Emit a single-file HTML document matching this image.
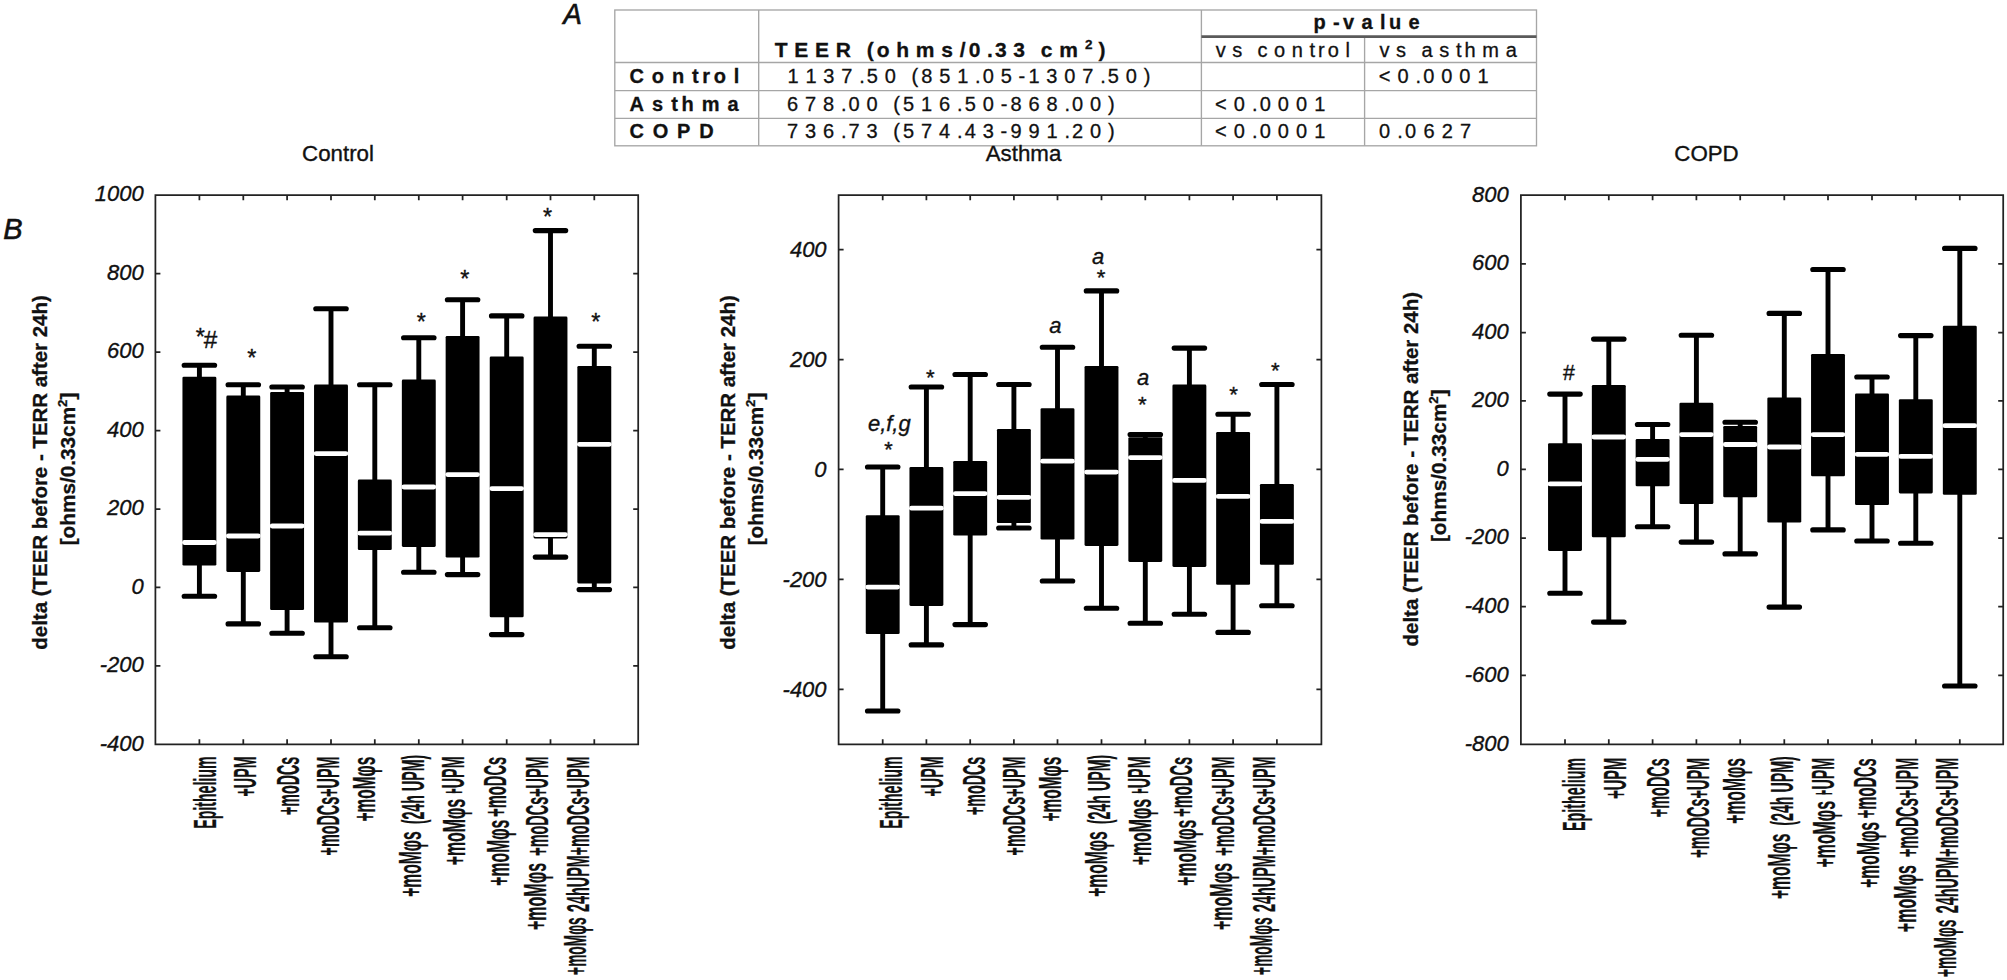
<!DOCTYPE html>
<html lang="en"><head><meta charset="utf-8"><title>TEER figure</title>
<style>html,body{margin:0;padding:0;background:#fff}svg{display:block} text{font-family:"Liberation Sans", sans-serif;fill:#111;font-kerning:none}.tb{white-space:pre}.yl,.ti,.an{stroke:#111;stroke-width:0.35px}.ab{stroke:#111;stroke-width:0.6px}.tb{stroke:#111;stroke-width:0.3px}.yt{stroke:#111;stroke-width:0.3px}.xl{stroke:#111;stroke-width:0.2px;vector-effect:non-scaling-stroke;font-kerning:none}</style></head><body>
<svg width="2007" height="980" viewBox="0 0 2007 980">
<rect width="2007" height="980" fill="#fff"/>
<g fill="none" stroke="#a6a6a6" stroke-width="1.35">
<rect x="614.8" y="10.0" width="921.7" height="135.8"/>
<path d="M758.7 10.0V145.8M1201.4 10.0V145.8M1364.6 36.6V145.8M614.8 62.5H1536.5M614.8 90.6H1536.5M614.8 118.3H1536.5"/>
</g>
<path d="M1201.4 36.6H1536.5" stroke="#5a5a5a" stroke-width="2.6" fill="none"/>
<text class="tb" x="774.76" y="57.4" font-size="21" font-weight="bold" dx="0 6.73 6.73 6.73 6.73 3.10 3.10 6.73 6.73 6.73 6.73 3.10 6.73 2.02 6.73 6.73 3.10 6.73">TEER (ohms/0.33 cm</text>
<text class="tb" x="1098.58" y="57.4" font-size="21" font-weight="bold" dx="0">)</text>
<text class="tb" x="629.58" y="83.0" font-size="20" font-weight="bold" dx="0 7.83 7.83 7.83 3.60 3.60 7.83">Control</text>
<text class="tb" x="629.50" y="110.7" font-size="20" font-weight="bold" dx="0 8.03 8.03 3.69 8.03 8.03">Asthma</text>
<text class="tb" x="629.58" y="138.3" font-size="20" font-weight="bold" dx="0 8.76 8.76 8.76">COPD</text>
<text class="tb" x="787.48" y="83.2" font-size="20" font-weight="normal" dx="0 6.82 6.82 6.82 6.82 2.05 6.82 6.82 3.14 3.14 6.82 6.82 6.82 2.05 6.82 6.82 3.14 6.82 6.82 6.82 6.82 2.05 6.82 6.82">1137.50 (851.05-1307.50)</text>
<text class="tb" x="786.98" y="110.7" font-size="20" font-weight="normal" dx="0 6.86 6.86 6.86 2.06 6.86 6.86 3.16 3.16 6.86 6.86 6.86 2.06 6.86 6.86 3.16 6.86 6.86 6.86 2.06 6.86 6.86">678.00 (516.50-868.00)</text>
<text class="tb" x="786.97" y="138.3" font-size="20" font-weight="normal" dx="0 6.86 6.86 6.86 2.06 6.86 6.86 3.16 3.16 6.86 6.86 6.86 2.06 6.86 6.86 3.16 6.86 6.86 6.86 2.06 6.86 6.86">736.73 (574.43-991.20)</text>
<text class="tb" x="1313.38" y="29.4" font-size="20" font-weight="bold" dx="0 7.37 3.39 7.37 7.37 3.39 7.37">p-value</text>
<text class="tb" x="1215.73" y="57.3" font-size="20" font-weight="normal" dx="0 6.59 6.59 3.03 6.59 6.59 6.59 3.03 3.03 6.59">vs control</text>
<text class="tb" x="1379.43" y="57.3" font-size="20" font-weight="normal" dx="0 6.68 6.68 3.07 6.68 6.68 3.07 6.68 6.68">vs asthma</text>
<text class="tb" x="1378.81" y="83.0" font-size="20" font-weight="normal" dx="0 6.96 6.96 2.09 6.96 6.96 6.96">&lt;0.0001</text>
<text class="tb" x="1215.01" y="110.5" font-size="20" font-weight="normal" dx="0 7.08 7.08 2.12 7.08 7.08 7.08">&lt;0.0001</text>
<text class="tb" x="1215.01" y="138.3" font-size="20" font-weight="normal" dx="0 7.08 7.08 2.12 7.08 7.08 7.08">&lt;0.0001</text>
<text class="tb" x="1379.02" y="138.3" font-size="20" font-weight="normal" dx="0 7.21 2.16 7.21 7.21 7.21">0.0627</text>
<text class="tb" x="1085.0" y="48.8" font-size="13.5" font-weight="bold">2</text>
<text class="ab" transform="translate(563.2 24.3) scale(1 1.07)" font-size="27.9" font-style="italic">A</text>
<text class="ab" transform="translate(3.3 239) scale(1 1.035)" font-size="29" font-style="italic">B</text>
<text x="338.0" y="161.0" font-size="22.3" text-anchor="middle" class="ti">Control</text>
<path d="M155.4 195.2H638.2V744.3H155.4ZM199.4 195.2v5.0M199.4 744.3v-5.0M243.3 195.2v5.0M243.3 744.3v-5.0M287.1 195.2v5.0M287.1 744.3v-5.0M331.0 195.2v5.0M331.0 744.3v-5.0M374.8 195.2v5.0M374.8 744.3v-5.0M418.8 195.2v5.0M418.8 744.3v-5.0M462.6 195.2v5.0M462.6 744.3v-5.0M506.7 195.2v5.0M506.7 744.3v-5.0M550.5 195.2v5.0M550.5 744.3v-5.0M594.3 195.2v5.0M594.3 744.3v-5.0M155.4 273.6h5.0M638.2 273.6h-5.0M155.4 352.1h5.0M638.2 352.1h-5.0M155.4 430.5h5.0M638.2 430.5h-5.0M155.4 509.0h5.0M638.2 509.0h-5.0M155.4 587.4h5.0M638.2 587.4h-5.0M155.4 665.9h5.0M638.2 665.9h-5.0" fill="none" stroke="#222" stroke-width="1.75"/>
<text class="yl" transform="translate(143.7 201.4) scale(1 1.04)" font-size="22" text-anchor="end" font-style="italic">1000</text>
<text class="yl" transform="translate(143.7 279.8) scale(1 1.04)" font-size="22" text-anchor="end" font-style="italic">800</text>
<text class="yl" transform="translate(143.7 358.3) scale(1 1.04)" font-size="22" text-anchor="end" font-style="italic">600</text>
<text class="yl" transform="translate(143.7 436.7) scale(1 1.04)" font-size="22" text-anchor="end" font-style="italic">400</text>
<text class="yl" transform="translate(143.7 515.2) scale(1 1.04)" font-size="22" text-anchor="end" font-style="italic">200</text>
<text class="yl" transform="translate(143.7 593.6) scale(1 1.04)" font-size="22" text-anchor="end" font-style="italic">0</text>
<text class="yl" transform="translate(143.7 672.1) scale(1 1.04)" font-size="22" text-anchor="end" font-style="italic">-200</text>
<text class="yl" transform="translate(143.7 750.5) scale(1 1.04)" font-size="22" text-anchor="end" font-style="italic">-400</text>
<path d="M199.4 365.2V596.3" stroke="#000" stroke-width="4.9" fill="none"/>
<path d="M184.15 365.2h30.50M184.15 596.3h30.50" stroke="#000" stroke-width="5.1" stroke-linecap="round" fill="none"/>
<rect x="182.45" y="376.70000000000005" width="33.9" height="188.8" rx="1.3" fill="#000"/>
<path d="M184.45 542.5h29.90" stroke="#fff" stroke-width="4.8" stroke-linecap="round" fill="none"/>
<path d="M243.3 384.8V623.9" stroke="#000" stroke-width="4.9" fill="none"/>
<path d="M228.05 384.8h30.50M228.05 623.9h30.50" stroke="#000" stroke-width="5.1" stroke-linecap="round" fill="none"/>
<rect x="226.35" y="395.6" width="33.9" height="176.3" rx="1.3" fill="#000"/>
<path d="M228.35 536.0h29.90" stroke="#fff" stroke-width="4.8" stroke-linecap="round" fill="none"/>
<path d="M287.1 387.0V633.1999999999999" stroke="#000" stroke-width="4.9" fill="none"/>
<path d="M271.85 387.0h30.50M271.85 633.1999999999999h30.50" stroke="#000" stroke-width="5.1" stroke-linecap="round" fill="none"/>
<rect x="270.15" y="392.1" width="33.9" height="218.0" rx="1.3" fill="#000"/>
<path d="M272.15 526.0h29.90" stroke="#fff" stroke-width="4.8" stroke-linecap="round" fill="none"/>
<path d="M331.0 308.8V656.6999999999999" stroke="#000" stroke-width="4.9" fill="none"/>
<path d="M315.75 308.8h30.50M315.75 656.6999999999999h30.50" stroke="#000" stroke-width="5.1" stroke-linecap="round" fill="none"/>
<rect x="314.05" y="384.6" width="33.9" height="237.9" rx="1.3" fill="#000"/>
<path d="M316.05 453.6h29.90" stroke="#fff" stroke-width="4.8" stroke-linecap="round" fill="none"/>
<path d="M374.8 384.8V627.8" stroke="#000" stroke-width="4.9" fill="none"/>
<path d="M359.55 384.8h30.50M359.55 627.8h30.50" stroke="#000" stroke-width="5.1" stroke-linecap="round" fill="none"/>
<rect x="357.85" y="479.6" width="33.9" height="70.5" rx="1.3" fill="#000"/>
<path d="M359.85 533.2h29.90" stroke="#fff" stroke-width="4.8" stroke-linecap="round" fill="none"/>
<path d="M418.8 337.7V572.3" stroke="#000" stroke-width="4.9" fill="none"/>
<path d="M403.55 337.7h30.50M403.55 572.3h30.50" stroke="#000" stroke-width="5.1" stroke-linecap="round" fill="none"/>
<rect x="401.85" y="379.6" width="33.9" height="167.3" rx="1.3" fill="#000"/>
<path d="M403.85 487.0h29.90" stroke="#fff" stroke-width="4.8" stroke-linecap="round" fill="none"/>
<path d="M462.6 299.8V574.5999999999999" stroke="#000" stroke-width="4.9" fill="none"/>
<path d="M447.35 299.8h30.50M447.35 574.5999999999999h30.50" stroke="#000" stroke-width="5.1" stroke-linecap="round" fill="none"/>
<rect x="445.65" y="336.0" width="33.9" height="221.5" rx="1.3" fill="#000"/>
<path d="M447.65 474.6h29.90" stroke="#fff" stroke-width="4.8" stroke-linecap="round" fill="none"/>
<path d="M506.7 315.9V634.5999999999999" stroke="#000" stroke-width="4.9" fill="none"/>
<path d="M491.45 315.9h30.50M491.45 634.5999999999999h30.50" stroke="#000" stroke-width="5.1" stroke-linecap="round" fill="none"/>
<rect x="489.75" y="356.40000000000003" width="33.9" height="260.9" rx="1.3" fill="#000"/>
<path d="M491.75 488.6h29.90" stroke="#fff" stroke-width="4.8" stroke-linecap="round" fill="none"/>
<path d="M550.5 230.6V557.0999999999999" stroke="#000" stroke-width="4.9" fill="none"/>
<path d="M535.25 230.6h30.50M535.25 557.0999999999999h30.50" stroke="#000" stroke-width="5.1" stroke-linecap="round" fill="none"/>
<rect x="533.55" y="316.6" width="33.9" height="221.8" rx="1.3" fill="#000"/>
<path d="M535.55 534.6h29.90" stroke="#fff" stroke-width="4.8" stroke-linecap="round" fill="none"/>
<path d="M594.3 346.2V589.5999999999999" stroke="#000" stroke-width="4.9" fill="none"/>
<path d="M579.05 346.2h30.50M579.05 589.5999999999999h30.50" stroke="#000" stroke-width="5.1" stroke-linecap="round" fill="none"/>
<rect x="577.35" y="366.0" width="33.9" height="217.4" rx="1.3" fill="#000"/>
<path d="M579.35 444.3h29.90" stroke="#fff" stroke-width="4.8" stroke-linecap="round" fill="none"/>
<text class="xl" transform="translate(216.35 756.52) rotate(-90) scale(0.4564 1)" text-anchor="end" font-size="31" font-weight="bold">Epithelium</text>
<text class="xl" transform="translate(256.35 756.45) rotate(-90) scale(0.4604 1)" text-anchor="end" font-size="31" font-weight="bold">+UPM</text>
<text class="xl" transform="translate(299.45 756.82) rotate(-90) scale(0.4595 1)" text-anchor="end" font-size="31" font-weight="bold">+moDCs</text>
<text class="xl" transform="translate(339.45 756.44) rotate(-90) scale(0.4638 1)" text-anchor="end" font-size="31" font-weight="bold">+moDCs+UPM</text>
<text class="xl" transform="translate(375.35 756.77) rotate(-90) scale(0.4989 1)" text-anchor="end" font-size="31" font-weight="bold">+moMφs</text>
<g>
<text class="xl" transform="translate(420.75 896.86) rotate(-90) scale(0.5052 1)" text-anchor="start" font-size="31" font-weight="bold">+moMφs </text>
<text class="xl" transform="translate(423.75 754.79) rotate(-90) scale(0.4587 1)" text-anchor="end" font-size="31" font-weight="bold">(24h UPM)</text>
</g>
<g>
<text class="xl" transform="translate(464.95 865.27) rotate(-90) scale(0.5123 1)" text-anchor="start" font-size="31" font-weight="bold">+moMφs </text>
<text class="xl" transform="translate(463.75 756.44) rotate(-90) scale(0.4616 1)" text-anchor="end" font-size="31" font-weight="bold">+UPM</text>
<rect x="438.9" y="793.2" width="27" height="5.2" fill="#fff"/>
</g>
<g>
<text class="xl" transform="translate(509.35 885.66) rotate(-90) scale(0.5076 1)" text-anchor="start" font-size="31" font-weight="bold">+moMφs </text>
<text class="xl" transform="translate(505.85 756.80) rotate(-90) scale(0.4740 1)" text-anchor="end" font-size="31" font-weight="bold">+moDCs</text>
</g>
<g>
<text class="xl" transform="translate(545.85 929.97) rotate(-90) scale(0.5162 1)" text-anchor="start" font-size="31" font-weight="bold">+moMφs </text>
<text class="xl" transform="translate(548.05 756.44) rotate(-90) scale(0.4647 1)" text-anchor="end" font-size="31" font-weight="bold">+moDCs+UPM</text>
</g>
<g>
<text class="xl" transform="translate(585.85 974.88) rotate(-90) scale(0.4432 1)" text-anchor="start" font-size="31" font-weight="bold">+moMφs </text>
<text class="xl" transform="translate(588.75 756.44) rotate(-90) scale(0.4631 1)" text-anchor="end" font-size="31" font-weight="bold">24hUPM+moDCs+UPM</text>
</g>
<text class="yt" transform="translate(46.7 472.45) rotate(-90) scale(1.023 1)" text-anchor="middle" font-size="20" font-weight="bold">delta (TEER before - TERR after 24h)</text>
<text class="yt" transform="translate(74.6 468.95) rotate(-90) scale(1.038 1)" text-anchor="middle" font-size="20" font-weight="bold">[ohms/0.33cm<tspan font-size="12.8" dy="-7.7">2</tspan><tspan dy="7.7">]</tspan></text>
<text class="an" x="200.2" y="345.3" font-size="23.4" text-anchor="middle">*</text>
<text class="an" x="203.8" y="348.2" font-size="24.3">#</text>
<text class="an" x="251.8" y="366.1" font-size="23.4" text-anchor="middle">*</text>
<text class="an" x="421.3" y="329.7" font-size="23.4" text-anchor="middle">*</text>
<text class="an" x="464.8" y="287.2" font-size="23.4" text-anchor="middle">*</text>
<text class="an" x="547.5" y="224.7" font-size="23.4" text-anchor="middle">*</text>
<text class="an" x="595.9" y="329.7" font-size="23.4" text-anchor="middle">*</text>
<text x="1023.5" y="161.0" font-size="22.3" text-anchor="middle" class="ti">Asthma</text>
<path d="M838.6 195.2H1321.4V744.3H838.6ZM882.7 195.2v5.0M882.7 744.3v-5.0M926.4 195.2v5.0M926.4 744.3v-5.0M970.2 195.2v5.0M970.2 744.3v-5.0M1013.9 195.2v5.0M1013.9 744.3v-5.0M1057.5 195.2v5.0M1057.5 744.3v-5.0M1101.5 195.2v5.0M1101.5 744.3v-5.0M1145.3 195.2v5.0M1145.3 744.3v-5.0M1189.4 195.2v5.0M1189.4 744.3v-5.0M1233.1 195.2v5.0M1233.1 744.3v-5.0M1276.9 195.2v5.0M1276.9 744.3v-5.0M838.6 249.6h5.0M1321.4 249.6h-5.0M838.6 359.5h5.0M1321.4 359.5h-5.0M838.6 469.3h5.0M1321.4 469.3h-5.0M838.6 579.3h5.0M1321.4 579.3h-5.0M838.6 689.3h5.0M1321.4 689.3h-5.0" fill="none" stroke="#222" stroke-width="1.75"/>
<text class="yl" transform="translate(826.6 257.0) scale(1 1.04)" font-size="22" text-anchor="end" font-style="italic">400</text>
<text class="yl" transform="translate(826.6 366.9) scale(1 1.04)" font-size="22" text-anchor="end" font-style="italic">200</text>
<text class="yl" transform="translate(826.6 476.7) scale(1 1.04)" font-size="22" text-anchor="end" font-style="italic">0</text>
<text class="yl" transform="translate(826.6 586.7) scale(1 1.04)" font-size="22" text-anchor="end" font-style="italic">-200</text>
<text class="yl" transform="translate(826.6 696.7) scale(1 1.04)" font-size="22" text-anchor="end" font-style="italic">-400</text>
<path d="M882.7 467.0V711.0" stroke="#000" stroke-width="4.9" fill="none"/>
<path d="M867.45 467.0h30.50M867.45 711.0h30.50" stroke="#000" stroke-width="5.1" stroke-linecap="round" fill="none"/>
<rect x="865.75" y="515.3000000000001" width="33.9" height="118.8" rx="1.3" fill="#000"/>
<path d="M867.75 587.1h29.90" stroke="#fff" stroke-width="4.8" stroke-linecap="round" fill="none"/>
<path d="M926.4 387.0V644.9" stroke="#000" stroke-width="4.9" fill="none"/>
<path d="M911.15 387.0h30.50M911.15 644.9h30.50" stroke="#000" stroke-width="5.1" stroke-linecap="round" fill="none"/>
<rect x="909.45" y="467.1" width="33.9" height="138.8" rx="1.3" fill="#000"/>
<path d="M911.45 508.2h29.90" stroke="#fff" stroke-width="4.8" stroke-linecap="round" fill="none"/>
<path d="M970.2 374.5V624.5999999999999" stroke="#000" stroke-width="4.9" fill="none"/>
<path d="M954.95 374.5h30.50M954.95 624.5999999999999h30.50" stroke="#000" stroke-width="5.1" stroke-linecap="round" fill="none"/>
<rect x="953.25" y="461.0" width="33.9" height="74.5" rx="1.3" fill="#000"/>
<path d="M955.25 493.6h29.90" stroke="#fff" stroke-width="4.8" stroke-linecap="round" fill="none"/>
<path d="M1013.9 384.5V528.0" stroke="#000" stroke-width="4.9" fill="none"/>
<path d="M998.65 384.5h30.50M998.65 528.0h30.50" stroke="#000" stroke-width="5.1" stroke-linecap="round" fill="none"/>
<rect x="996.95" y="428.90000000000003" width="33.9" height="94.2" rx="1.3" fill="#000"/>
<path d="M998.95 497.3h29.90" stroke="#fff" stroke-width="4.8" stroke-linecap="round" fill="none"/>
<path d="M1057.5 347.3V581.0" stroke="#000" stroke-width="4.9" fill="none"/>
<path d="M1042.25 347.3h30.50M1042.25 581.0h30.50" stroke="#000" stroke-width="5.1" stroke-linecap="round" fill="none"/>
<rect x="1040.55" y="408.20000000000005" width="33.9" height="131.3" rx="1.3" fill="#000"/>
<path d="M1042.55 461.2h29.90" stroke="#fff" stroke-width="4.8" stroke-linecap="round" fill="none"/>
<path d="M1101.5 290.9V608.1999999999999" stroke="#000" stroke-width="4.9" fill="none"/>
<path d="M1086.25 290.9h30.50M1086.25 608.1999999999999h30.50" stroke="#000" stroke-width="5.1" stroke-linecap="round" fill="none"/>
<rect x="1084.55" y="366.0" width="33.9" height="179.9" rx="1.3" fill="#000"/>
<path d="M1086.55 472.1h29.90" stroke="#fff" stroke-width="4.8" stroke-linecap="round" fill="none"/>
<path d="M1145.3 434.5V623.1999999999999" stroke="#000" stroke-width="4.9" fill="none"/>
<path d="M1130.05 434.5h30.50M1130.05 623.1999999999999h30.50" stroke="#000" stroke-width="5.1" stroke-linecap="round" fill="none"/>
<rect x="1128.35" y="437.20000000000005" width="33.9" height="124.7" rx="1.3" fill="#000"/>
<path d="M1130.35 457.6h29.90" stroke="#fff" stroke-width="4.8" stroke-linecap="round" fill="none"/>
<path d="M1189.4 348.09999999999997V614.1999999999999" stroke="#000" stroke-width="4.9" fill="none"/>
<path d="M1174.15 348.09999999999997h30.50M1174.15 614.1999999999999h30.50" stroke="#000" stroke-width="5.1" stroke-linecap="round" fill="none"/>
<rect x="1172.45" y="384.6" width="33.9" height="182.3" rx="1.3" fill="#000"/>
<path d="M1174.45 480.4h29.90" stroke="#fff" stroke-width="4.8" stroke-linecap="round" fill="none"/>
<path d="M1233.1 414.2V632.4" stroke="#000" stroke-width="4.9" fill="none"/>
<path d="M1217.85 414.2h30.50M1217.85 632.4h30.50" stroke="#000" stroke-width="5.1" stroke-linecap="round" fill="none"/>
<rect x="1216.15" y="431.90000000000003" width="33.9" height="152.9" rx="1.3" fill="#000"/>
<path d="M1218.15 496.4h29.90" stroke="#fff" stroke-width="4.8" stroke-linecap="round" fill="none"/>
<path d="M1276.9 384.5V605.6999999999999" stroke="#000" stroke-width="4.9" fill="none"/>
<path d="M1261.65 384.5h30.50M1261.65 605.6999999999999h30.50" stroke="#000" stroke-width="5.1" stroke-linecap="round" fill="none"/>
<rect x="1259.95" y="483.90000000000003" width="33.9" height="80.9" rx="1.3" fill="#000"/>
<path d="M1261.95 521.4h29.90" stroke="#fff" stroke-width="4.8" stroke-linecap="round" fill="none"/>
<text class="xl" transform="translate(901.90 756.52) rotate(-90) scale(0.4564 1)" text-anchor="end" font-size="31" font-weight="bold">Epithelium</text>
<text class="xl" transform="translate(942.75 756.45) rotate(-90) scale(0.4604 1)" text-anchor="end" font-size="31" font-weight="bold">+UPM</text>
<text class="xl" transform="translate(985.25 756.82) rotate(-90) scale(0.4595 1)" text-anchor="end" font-size="31" font-weight="bold">+moDCs</text>
<text class="xl" transform="translate(1024.95 756.44) rotate(-90) scale(0.4638 1)" text-anchor="end" font-size="31" font-weight="bold">+moDCs+UPM</text>
<text class="xl" transform="translate(1060.85 756.77) rotate(-90) scale(0.4989 1)" text-anchor="end" font-size="31" font-weight="bold">+moMφs</text>
<g>
<text class="xl" transform="translate(1106.85 896.86) rotate(-90) scale(0.5052 1)" text-anchor="start" font-size="31" font-weight="bold">+moMφs </text>
<text class="xl" transform="translate(1109.85 754.79) rotate(-90) scale(0.4587 1)" text-anchor="end" font-size="31" font-weight="bold">(24h UPM)</text>
</g>
<g>
<text class="xl" transform="translate(1151.15 865.27) rotate(-90) scale(0.5123 1)" text-anchor="start" font-size="31" font-weight="bold">+moMφs </text>
<text class="xl" transform="translate(1149.95 756.44) rotate(-90) scale(0.4616 1)" text-anchor="end" font-size="31" font-weight="bold">+UPM</text>
<rect x="1125.1" y="793.2" width="27" height="5.2" fill="#fff"/>
</g>
<g>
<text class="xl" transform="translate(1195.55 885.66) rotate(-90) scale(0.5076 1)" text-anchor="start" font-size="31" font-weight="bold">+moMφs </text>
<text class="xl" transform="translate(1192.05 756.80) rotate(-90) scale(0.4740 1)" text-anchor="end" font-size="31" font-weight="bold">+moDCs</text>
</g>
<g>
<text class="xl" transform="translate(1231.75 929.97) rotate(-90) scale(0.5162 1)" text-anchor="start" font-size="31" font-weight="bold">+moMφs </text>
<text class="xl" transform="translate(1233.95 756.44) rotate(-90) scale(0.4647 1)" text-anchor="end" font-size="31" font-weight="bold">+moDCs+UPM</text>
</g>
<g>
<text class="xl" transform="translate(1272.05 974.88) rotate(-90) scale(0.4432 1)" text-anchor="start" font-size="31" font-weight="bold">+moMφs </text>
<text class="xl" transform="translate(1274.95 756.44) rotate(-90) scale(0.4631 1)" text-anchor="end" font-size="31" font-weight="bold">24hUPM+moDCs+UPM</text>
</g>
<text class="yt" transform="translate(734.6 472.45) rotate(-90) scale(1.023 1)" text-anchor="middle" font-size="20" font-weight="bold">delta (TEER before - TERR after 24h)</text>
<text class="yt" transform="translate(762.5 468.95) rotate(-90) scale(1.038 1)" text-anchor="middle" font-size="20" font-weight="bold">[ohms/0.33cm<tspan font-size="12.8" dy="-7.7">2</tspan><tspan dy="7.7">]</tspan></text>
<text class="an" x="867.9" y="431.4" font-size="22" font-style="italic">e,f,g</text>
<text class="an" x="888.6" y="457.3" font-size="21.7" text-anchor="middle">*</text>
<text class="an" x="930.4" y="384.9" font-size="22.2" text-anchor="middle">*</text>
<text class="an" x="1049.3" y="333.2" font-size="22" font-style="italic">a</text>
<text class="an" x="1092.1" y="263.5" font-size="22" font-style="italic">a</text>
<text class="an" x="1101.0" y="284.8" font-size="22.2" text-anchor="middle">*</text>
<text class="an" x="1137.1" y="384.9" font-size="22" font-style="italic">a</text>
<text class="an" x="1142.3" y="411.5" font-size="22.2" text-anchor="middle">*</text>
<text class="an" x="1233.6" y="401.7" font-size="22.2" text-anchor="middle">*</text>
<text class="an" x="1275.4" y="377.9" font-size="22.2" text-anchor="middle">*</text>
<text x="1706.5" y="161.0" font-size="22.3" text-anchor="middle" class="ti">COPD</text>
<path d="M1520.9 195.2H2003.2V744.3H1520.9ZM1565.0 195.2v5.0M1565.0 744.3v-5.0M1608.8 195.2v5.0M1608.8 744.3v-5.0M1652.6 195.2v5.0M1652.6 744.3v-5.0M1696.4 195.2v5.0M1696.4 744.3v-5.0M1740.2 195.2v5.0M1740.2 744.3v-5.0M1784.3 195.2v5.0M1784.3 744.3v-5.0M1828.0 195.2v5.0M1828.0 744.3v-5.0M1872.0 195.2v5.0M1872.0 744.3v-5.0M1915.8 195.2v5.0M1915.8 744.3v-5.0M1959.8 195.2v5.0M1959.8 744.3v-5.0M1520.9 263.9h5.0M2003.2 263.9h-5.0M1520.9 332.5h5.0M2003.2 332.5h-5.0M1520.9 400.9h5.0M2003.2 400.9h-5.0M1520.9 469.3h5.0M2003.2 469.3h-5.0M1520.9 538.0h5.0M2003.2 538.0h-5.0M1520.9 606.7h5.0M2003.2 606.7h-5.0M1520.9 675.4h5.0M2003.2 675.4h-5.0" fill="none" stroke="#222" stroke-width="1.75"/>
<text class="yl" transform="translate(1508.7 201.5) scale(1 1.04)" font-size="22" text-anchor="end" font-style="italic">800</text>
<text class="yl" transform="translate(1508.7 270.2) scale(1 1.04)" font-size="22" text-anchor="end" font-style="italic">600</text>
<text class="yl" transform="translate(1508.7 338.8) scale(1 1.04)" font-size="22" text-anchor="end" font-style="italic">400</text>
<text class="yl" transform="translate(1508.7 407.2) scale(1 1.04)" font-size="22" text-anchor="end" font-style="italic">200</text>
<text class="yl" transform="translate(1508.7 475.6) scale(1 1.04)" font-size="22" text-anchor="end" font-style="italic">0</text>
<text class="yl" transform="translate(1508.7 544.3) scale(1 1.04)" font-size="22" text-anchor="end" font-style="italic">-200</text>
<text class="yl" transform="translate(1508.7 613.0) scale(1 1.04)" font-size="22" text-anchor="end" font-style="italic">-400</text>
<text class="yl" transform="translate(1508.7 681.7) scale(1 1.04)" font-size="22" text-anchor="end" font-style="italic">-600</text>
<text class="yl" transform="translate(1508.7 750.6) scale(1 1.04)" font-size="22" text-anchor="end" font-style="italic">-800</text>
<path d="M1565.0 394.09999999999997V593.1999999999999" stroke="#000" stroke-width="4.9" fill="none"/>
<path d="M1549.75 394.09999999999997h30.50M1549.75 593.1999999999999h30.50" stroke="#000" stroke-width="5.1" stroke-linecap="round" fill="none"/>
<rect x="1548.05" y="443.20000000000005" width="33.9" height="107.7" rx="1.3" fill="#000"/>
<path d="M1550.05 483.9h29.90" stroke="#fff" stroke-width="4.8" stroke-linecap="round" fill="none"/>
<path d="M1608.8 339.09999999999997V622.0999999999999" stroke="#000" stroke-width="4.9" fill="none"/>
<path d="M1593.55 339.09999999999997h30.50M1593.55 622.0999999999999h30.50" stroke="#000" stroke-width="5.1" stroke-linecap="round" fill="none"/>
<rect x="1591.85" y="385.0" width="33.9" height="152.3" rx="1.3" fill="#000"/>
<path d="M1593.85 437.0h29.90" stroke="#fff" stroke-width="4.8" stroke-linecap="round" fill="none"/>
<path d="M1652.6 424.5V526.6999999999999" stroke="#000" stroke-width="4.9" fill="none"/>
<path d="M1637.35 424.5h30.50M1637.35 526.6999999999999h30.50" stroke="#000" stroke-width="5.1" stroke-linecap="round" fill="none"/>
<rect x="1635.65" y="439.1" width="33.9" height="47.1" rx="1.3" fill="#000"/>
<path d="M1637.65 459.3h29.90" stroke="#fff" stroke-width="4.8" stroke-linecap="round" fill="none"/>
<path d="M1696.4 335.2V542.0999999999999" stroke="#000" stroke-width="4.9" fill="none"/>
<path d="M1681.15 335.2h30.50M1681.15 542.0999999999999h30.50" stroke="#000" stroke-width="5.1" stroke-linecap="round" fill="none"/>
<rect x="1679.45" y="402.8" width="33.9" height="101.3" rx="1.3" fill="#000"/>
<path d="M1681.45 434.6h29.90" stroke="#fff" stroke-width="4.8" stroke-linecap="round" fill="none"/>
<path d="M1740.2 422.3V553.9" stroke="#000" stroke-width="4.9" fill="none"/>
<path d="M1724.95 422.3h30.50M1724.95 553.9h30.50" stroke="#000" stroke-width="5.1" stroke-linecap="round" fill="none"/>
<rect x="1723.25" y="426.0" width="33.9" height="71.3" rx="1.3" fill="#000"/>
<path d="M1725.25 444.5h29.90" stroke="#fff" stroke-width="4.8" stroke-linecap="round" fill="none"/>
<path d="M1784.3 313.4V607.0999999999999" stroke="#000" stroke-width="4.9" fill="none"/>
<path d="M1769.05 313.4h30.50M1769.05 607.0999999999999h30.50" stroke="#000" stroke-width="5.1" stroke-linecap="round" fill="none"/>
<rect x="1767.35" y="397.5" width="33.9" height="125.1" rx="1.3" fill="#000"/>
<path d="M1769.35 447.0h29.90" stroke="#fff" stroke-width="4.8" stroke-linecap="round" fill="none"/>
<path d="M1828.0 269.5V529.9" stroke="#000" stroke-width="4.9" fill="none"/>
<path d="M1812.75 269.5h30.50M1812.75 529.9h30.50" stroke="#000" stroke-width="5.1" stroke-linecap="round" fill="none"/>
<rect x="1811.05" y="353.90000000000003" width="33.9" height="122.3" rx="1.3" fill="#000"/>
<path d="M1813.05 434.6h29.90" stroke="#fff" stroke-width="4.8" stroke-linecap="round" fill="none"/>
<path d="M1872.0 377.0V541.0" stroke="#000" stroke-width="4.9" fill="none"/>
<path d="M1856.75 377.0h30.50M1856.75 541.0h30.50" stroke="#000" stroke-width="5.1" stroke-linecap="round" fill="none"/>
<rect x="1855.05" y="393.5" width="33.9" height="111.6" rx="1.3" fill="#000"/>
<path d="M1857.05 454.3h29.90" stroke="#fff" stroke-width="4.8" stroke-linecap="round" fill="none"/>
<path d="M1915.8 335.59999999999997V543.1999999999999" stroke="#000" stroke-width="4.9" fill="none"/>
<path d="M1900.55 335.59999999999997h30.50M1900.55 543.1999999999999h30.50" stroke="#000" stroke-width="5.1" stroke-linecap="round" fill="none"/>
<rect x="1898.85" y="399.20000000000005" width="33.9" height="94.2" rx="1.3" fill="#000"/>
<path d="M1900.85 456.4h29.90" stroke="#fff" stroke-width="4.8" stroke-linecap="round" fill="none"/>
<path d="M1959.8 248.39999999999998V686.0" stroke="#000" stroke-width="4.9" fill="none"/>
<path d="M1944.55 248.39999999999998h30.50M1944.55 686.0h30.50" stroke="#000" stroke-width="5.1" stroke-linecap="round" fill="none"/>
<rect x="1942.85" y="325.70000000000005" width="33.9" height="169.1" rx="1.3" fill="#000"/>
<path d="M1944.85 425.7h29.90" stroke="#fff" stroke-width="4.8" stroke-linecap="round" fill="none"/>
<text class="xl" transform="translate(1585.45 757.91) rotate(-90) scale(0.4616 1)" text-anchor="end" font-size="31" font-weight="bold">Epithelium</text>
<text class="xl" transform="translate(1626.15 757.83) rotate(-90) scale(0.4700 1)" text-anchor="end" font-size="31" font-weight="bold">+UPM</text>
<text class="xl" transform="translate(1668.85 758.21) rotate(-90) scale(0.4660 1)" text-anchor="end" font-size="31" font-weight="bold">+moDCs</text>
<text class="xl" transform="translate(1708.65 757.83) rotate(-90) scale(0.4676 1)" text-anchor="end" font-size="31" font-weight="bold">+moDCs+UPM</text>
<text class="xl" transform="translate(1744.55 758.16) rotate(-90) scale(0.5052 1)" text-anchor="end" font-size="31" font-weight="bold">+moMφs</text>
<g>
<text class="xl" transform="translate(1790.35 899.06) rotate(-90) scale(0.5052 1)" text-anchor="start" font-size="31" font-weight="bold">+moMφs </text>
<text class="xl" transform="translate(1793.35 756.19) rotate(-90) scale(0.4587 1)" text-anchor="end" font-size="31" font-weight="bold">(24h UPM)</text>
</g>
<g>
<text class="xl" transform="translate(1834.75 867.47) rotate(-90) scale(0.5123 1)" text-anchor="start" font-size="31" font-weight="bold">+moMφs </text>
<text class="xl" transform="translate(1833.55 757.84) rotate(-90) scale(0.4616 1)" text-anchor="end" font-size="31" font-weight="bold">+UPM</text>
<rect x="1808.7" y="794.6" width="27" height="5.2" fill="#fff"/>
</g>
<g>
<text class="xl" transform="translate(1879.15 887.86) rotate(-90) scale(0.5076 1)" text-anchor="start" font-size="31" font-weight="bold">+moMφs </text>
<text class="xl" transform="translate(1875.65 758.20) rotate(-90) scale(0.4740 1)" text-anchor="end" font-size="31" font-weight="bold">+moDCs</text>
</g>
<g>
<text class="xl" transform="translate(1915.55 932.17) rotate(-90) scale(0.5162 1)" text-anchor="start" font-size="31" font-weight="bold">+moMφs </text>
<text class="xl" transform="translate(1917.75 757.84) rotate(-90) scale(0.4647 1)" text-anchor="end" font-size="31" font-weight="bold">+moDCs+UPM</text>
</g>
<g>
<text class="xl" transform="translate(1955.55 977.08) rotate(-90) scale(0.4432 1)" text-anchor="start" font-size="31" font-weight="bold">+moMφs </text>
<text class="xl" transform="translate(1958.45 757.84) rotate(-90) scale(0.4631 1)" text-anchor="end" font-size="31" font-weight="bold">24hUPM+moDCs+UPM</text>
</g>
<text class="yt" transform="translate(1417.6 469.2) rotate(-90) scale(1.023 1)" text-anchor="middle" font-size="20" font-weight="bold">delta (TEER before - TERR after 24h)</text>
<text class="yt" transform="translate(1445.5 465.7) rotate(-90) scale(1.038 1)" text-anchor="middle" font-size="20" font-weight="bold">[ohms/0.33cm<tspan font-size="12.8" dy="-7.7">2</tspan><tspan dy="7.7">]</tspan></text>
<text class="an" x="1563.0" y="380.0" font-size="21.3">#</text>
</svg></body></html>
